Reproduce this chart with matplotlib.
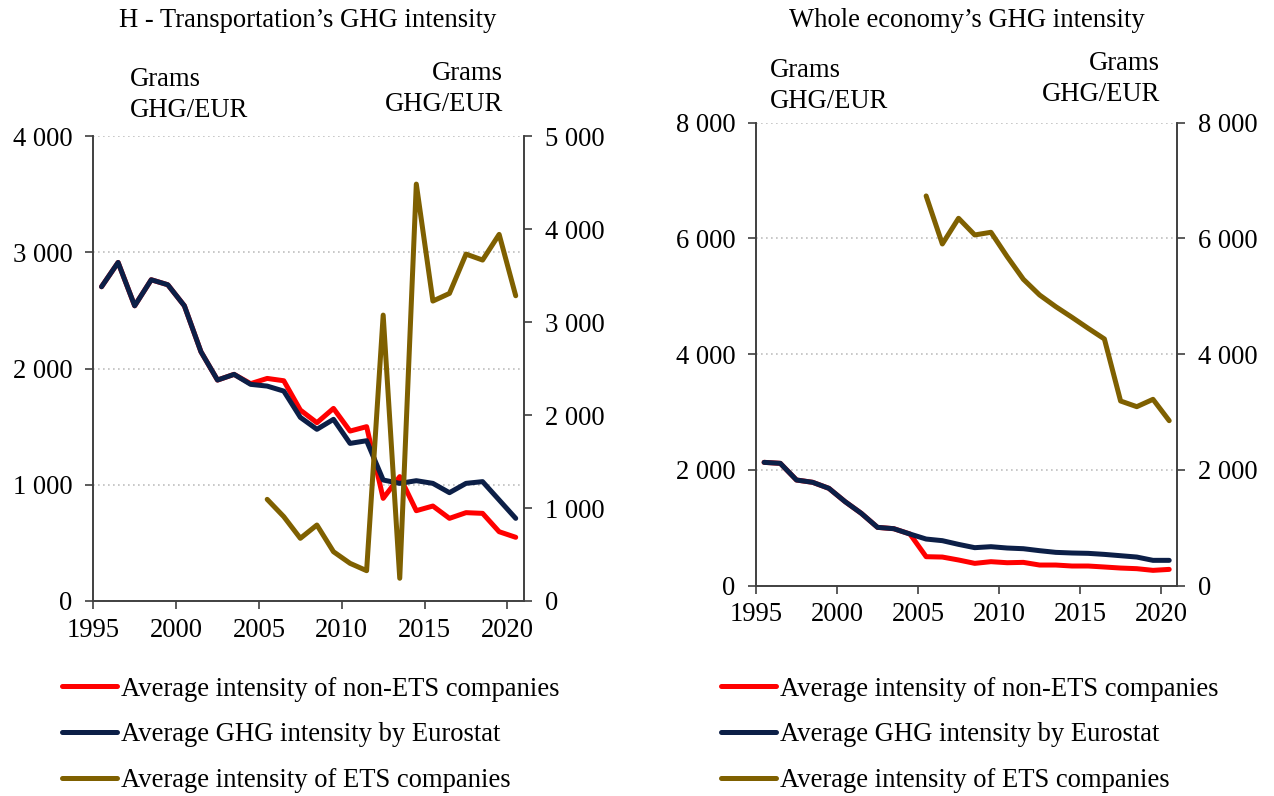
import matplotlib
matplotlib.use("Agg")
import matplotlib.pyplot as plt
from matplotlib.ticker import FuncFormatter

plt.rcParams['font.family'] = ['Liberation Serif', 'DejaVu Serif']

years = list(range(1995, 2021))
years_ets = list(range(2005, 2021))

# H - Transportation
tr_eurostat = [2704, 2913, 2540, 2764, 2721, 2540, 2145, 1901, 1950, 1864,
               1849, 1806, 1580, 1477, 1563, 1356, 1379, 1041, 1012, 1035,
               1012, 932, 1012, 1027, 869, 711]
tr_non_ets = [2704, 2913, 2540, 2764, 2721, 2540, 2145, 1901, 1950, 1870,
              1915, 1895, 1643, 1534, 1657, 1462, 1500, 883, 1070, 777,
              817, 711, 760, 754, 596, 548]
tr_ets = [1093, 907, 674, 817, 530, 405, 326, 3075, 244, 4484,
          3226, 3308, 3731, 3667, 3943, 3283]

# Whole economy
ec_eurostat = [2131, 2114, 1826, 1786, 1682, 1452, 1250, 1008, 985, 893,
               806, 778, 714, 657, 674, 651, 639, 605, 576, 565,
               559, 541, 518, 495, 438, 438]
ec_non_ets = [2131, 2114, 1826, 1786, 1682, 1452, 1250, 1008, 985, 893,
              501, 495, 444, 386, 415, 397, 403, 357, 357, 340,
              340, 323, 305, 294, 265, 282]
ec_ets = [6734, 5904, 6348, 6060, 6106, 5686, 5294, 5023, 4821, 4637,
          4447, 4263, 3191, 3093, 3220, 2851]

labels = ["Average intensity of non-ETS companies",
          "Average GHG intensity by Eurostat",
          "Average intensity of ETS companies"]
c_red, c_navy, c_gold = "#FF0000", "#0C1F47", "#7F6000"
spine_c = "#404040"
FS = 19.2
LW = 3.6

fmt = FuncFormatter(lambda v, p: f"{int(v):,}".replace(",", " "))

fig = plt.figure(figsize=(12.74, 7.96), dpi=100)


def panel(rect, eur, non, ets, lmax, lstep, rmax, rstep, legx):
    ax = fig.add_axes(rect)
    ax2 = ax.twinx()
    l1, = ax.plot(years, non, color=c_red, lw=LW, solid_capstyle='round')
    l2, = ax.plot(years, eur, color=c_navy, lw=LW, solid_capstyle='round')
    l3, = ax2.plot(years_ets, ets, color=c_gold, lw=LW, solid_capstyle='round')
    ax.set_xlim(1994.5, 2020.5)
    ax.set_xticks([1994.5 + 5 * i for i in range(6)])
    ax.set_xticklabels([str(1995 + 5 * i) for i in range(6)])
    ax.set_ylim(0, lmax)
    ax.set_yticks(range(0, lmax + 1, lstep))
    ax2.set_ylim(0, rmax)
    ax2.set_yticks(range(0, rmax + 1, rstep))
    ax.yaxis.set_major_formatter(fmt)
    ax2.yaxis.set_major_formatter(fmt)
    ax.grid(axis='y', color='#BFBFBF', linestyle=(0, (1, 2)), lw=1.2)
    for a in (ax, ax2):
        a.spines['top'].set_visible(False)
        for s in ('left', 'right', 'bottom'):
            a.spines[s].set_color(spine_c)
            a.spines[s].set_linewidth(1.2)
        a.tick_params(axis='y', direction='out', length=6, width=1.2,
                      color=spine_c, labelsize=FS, pad=9)
        a.tick_params(axis='x', direction='out', length=6, width=1.2,
                      color=spine_c, labelsize=FS, pad=6)
    fig.legend([l1, l2, l3], labels, loc='upper left',
               bbox_to_anchor=(legx, 0.150), frameon=False, fontsize=FS,
               handlelength=2.05, handletextpad=0.15, labelspacing=0.78,
               borderaxespad=0, borderpad=0)
    return ax, ax2


panel([0.0732, 0.245, 0.3381, 0.584], tr_eurostat, tr_non_ets,
      tr_ets, 4000, 1000, 5000, 1000, 0.049)
panel([0.5934, 0.2642, 0.3307, 0.5817], ec_eurostat, ec_non_ets,
      ec_ets, 8000, 2000, 8000, 2000, 0.566)

fig.text(0.2414, 0.974, "H - Transportation\u2019s GHG intensity", ha='center',
         va='center', fontsize=FS)
fig.text(0.759, 0.974, "Whole economy\u2019s GHG intensity", ha='center',
         va='center', fontsize=FS)

gkw = dict(va='center', fontsize=FS, linespacing=1.3)
fig.text(0.102, 0.881, "Grams\nGHG/EUR", ha='left', **gkw)
fig.text(0.395, 0.888, "Grams\nGHG/EUR", ha='right', **gkw)
fig.text(0.604, 0.892, "Grams\nGHG/EUR", ha='left', **gkw)
fig.text(0.9105, 0.901, "Grams\nGHG/EUR", ha='right', **gkw)

fig.savefig("out.png", dpi=100)
